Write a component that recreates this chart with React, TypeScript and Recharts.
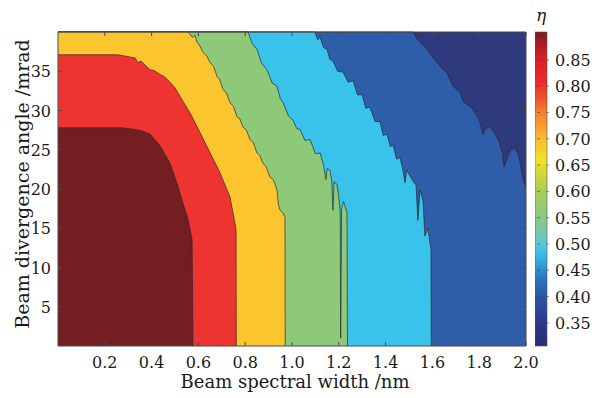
import React from "react";
import {
    ComposedChart,
    Area,
    XAxis,
    YAxis,
    ReferenceArea,
    Label,
    BarChart,
    Bar,
} from "recharts";

// axes
const X_TICKS = [0.2, 0.4, 0.6, 0.8, 1.0, 1.2, 1.4, 1.6, 1.8, 2.0];
const Y_TICKS = [5, 10, 15, 20, 25, 30, 35];
const ETA_TICKS = [0.35, 0.4, 0.45, 0.5, 0.55, 0.6, 0.65, 0.7, 0.75, 0.8, 0.85];
const ETA_RANGE = [0.306, 0.903];

// contour edges: [spectral width nm, divergence mrad], region lies below the edge
const navyEdge = [[0, 40], [2, 40]];
const blueEdge = [
    [0, 40], [1.517, 40], [1.534, 39.1], [1.56, 38.3], [1.577, 37.8], [1.6, 36.8], [1.62, 36.1],
    [1.645, 35.2], [1.662, 34.8], [1.688, 33.1], [1.718, 32.3], [1.731, 31.2], [1.74, 30.9],
    [1.752, 30.7], [1.765, 30.4], [1.78, 29.8], [1.8, 28.8], [1.812, 27.5], [1.816, 26.9],
    [1.825, 27.6], [1.846, 27.9], [1.865, 27.2], [1.885, 26.0], [1.9, 24.5], [1.906, 22.8],
    [1.915, 23.6], [1.935, 25.0], [1.953, 25.2], [1.968, 24.3], [1.98, 22.5], [1.987, 21.2],
    [2.0, 20.2],
];
const cyanEdge = [
    [0, 40], [1.098, 40], [1.11, 39.0], [1.12, 39.3], [1.135, 38.0], [1.15, 37.8], [1.162, 36.5],
    [1.175, 36.3], [1.195, 35.0], [1.218, 34.9], [1.24, 33.6], [1.261, 33.8], [1.28, 32.0],
    [1.3, 32.0], [1.315, 30.3], [1.333, 30.4], [1.355, 28.6], [1.376, 28.6], [1.39, 26.8],
    [1.406, 27.0], [1.42, 25.4], [1.432, 25.6], [1.447, 23.8], [1.462, 24.0], [1.474, 22.4],
    [1.483, 20.8], [1.49, 22.4], [1.517, 21.0], [1.53, 20.5], [1.538, 16.0], [1.547, 19.9],
    [1.56, 18.5], [1.568, 14.0], [1.581, 15.0], [1.594, 12.2], [1.595, 0],
];
const greenEdge = [
    [0, 40], [0.812, 40], [0.83, 38.5], [0.85, 37.8], [0.87, 36.0], [0.893, 35.2], [0.915, 33.5],
    [0.936, 33.1], [0.95, 31.5], [0.962, 31.0], [0.985, 29.3], [1.004, 28.8], [1.02, 27.7],
    [1.034, 27.6], [1.055, 26.2], [1.077, 26.3], [1.1, 24.5], [1.12, 24.6], [1.135, 23.0],
    [1.145, 21.2], [1.15, 22.6], [1.162, 22.4], [1.17, 21.0], [1.175, 17.3], [1.18, 20.9],
    [1.192, 20.6], [1.2, 19.0], [1.206, 17.0], [1.208, 1.0], [1.212, 17.5], [1.22, 18.4],
    [1.235, 17.0], [1.237, 0],
];
const yellowEdge = [
    [0, 40], [0.556, 40], [0.575, 39.3], [0.585, 39.6], [0.594, 38.7], [0.607, 38.2], [0.62, 37.4],
    [0.635, 37.0], [0.65, 36.1], [0.665, 35.6], [0.68, 34.3], [0.69, 34.0], [0.705, 32.7],
    [0.72, 32.2], [0.735, 31.0], [0.75, 30.5], [0.765, 29.2], [0.778, 28.9], [0.79, 27.9],
    [0.805, 27.5], [0.82, 26.3], [0.835, 25.9], [0.85, 24.6], [0.862, 24.3], [0.876, 23.3],
    [0.89, 22.8], [0.906, 21.5], [0.92, 21.2], [0.936, 19.9], [0.942, 18.0], [0.949, 17.3],
    [0.96, 17.0], [0.97, 16.4], [0.971, 0],
];
const redEdge = [
    [0, 37.1], [0.256, 37.1], [0.329, 36.7], [0.342, 36.1], [0.355, 36.3], [0.372, 35.8],
    [0.393, 35.2], [0.41, 35.1], [0.436, 34.6], [0.455, 34.3], [0.479, 33.6], [0.5, 32.9],
    [0.521, 31.8], [0.564, 29.7], [0.607, 27.2], [0.65, 24.6], [0.692, 22.1], [0.722, 19.9],
    [0.735, 19.0], [0.752, 16.3], [0.761, 14.8], [0.762, 0],
];
const darkRedEdge = [
    [0, 27.8], [0.274, 27.8], [0.35, 27.5], [0.393, 27.0], [0.436, 25.5], [0.479, 23.3],
    [0.513, 20.3], [0.534, 18.2], [0.556, 16.1], [0.573, 13.5], [0.577, 0],
];

const LEVELS = [
    { key: "navy", fill: "#2e397e", edge: navyEdge },
    { key: "blue", fill: "#2e5ea9", edge: blueEdge },
    { key: "cyan", fill: "#39c3ea", edge: cyanEdge },
    { key: "green", fill: "#8ec97a", edge: greenEdge },
    { key: "yellow", fill: "#fbc52f", edge: yellowEdge },
    { key: "red", fill: "#ee3431", edge: redEdge },
    { key: "darkRed", fill: "#731e22", edge: darkRedEdge },
];

// colour bar stops
const ETA_STOPS: [number, string][] = [
    [0.306, "#2b2d79"], [0.34, "#2c3482"], [0.37, "#2d4395"], [0.4, "#2c56a6"],
    [0.43, "#2a71bb"], [0.46, "#2f9ed9"], [0.48, "#36bce9"], [0.5, "#5ec5d6"],
    [0.53, "#7ec7a2"], [0.56, "#8fc97a"], [0.6, "#aacd58"], [0.63, "#ccd63b"],
    [0.66, "#efe12a"], [0.69, "#f7c52d"], [0.72, "#f7a22e"], [0.75, "#f3802f"],
    [0.78, "#ee4e2e"], [0.81, "#e82a2c"], [0.85, "#d92228"], [0.88, "#aa1d22"],
    [0.903, "#7d1b1f"],
];

const table = LEVELS.flatMap((l) => l.edge.map(([x, y]) => ({ x, [l.key]: y })));
const barData = [{ name: "eta", range: ETA_RANGE }];

const FONT = "DejaVu Serif";
const TOP = 32;
const BOTTOM = 346;
const LEFT = 58;
const RIGHT = 526;
const INK = "#1a1a1a";
const FRAME = "#4a4a4a";

function XTick({ x, payload }: any) {
    return (
        <g>
            <line x1={x} x2={x} y1={BOTTOM} y2={BOTTOM - 4} stroke={FRAME} />
            <line x1={x} x2={x} y1={TOP} y2={TOP + 4} stroke={FRAME} />
            <text x={x} y={BOTTOM + 22} textAnchor="middle" fontFamily={FONT} fontSize={16} fill={INK}>
                {payload.value.toFixed(1)}
            </text>
        </g>
    );
}

function YTick({ y, payload }: any) {
    return (
        <g>
            <line x1={LEFT} x2={LEFT + 4} y1={y} y2={y} stroke={FRAME} />
            <line x1={RIGHT} x2={RIGHT - 4} y1={y} y2={y} stroke={FRAME} />
            <text x={LEFT - 7} y={y + 6} textAnchor="end" fontFamily={FONT} fontSize={16} fill={INK}>
                {payload.value}
            </text>
        </g>
    );
}

function EtaTick({ x, y, payload }: any) {
    return (
        <g>
            <line x1={x - 12} x2={x - 9} y1={y} y2={y} stroke="#333" strokeOpacity={0.5} />
            <line x1={x - 3} x2={x} y1={y} y2={y} stroke="#333" strokeOpacity={0.5} />
            <text x={x + 6} y={y + 6} textAnchor="start" fontFamily={FONT} fontSize={16} fill={INK}>
                {payload.value.toFixed(2)}
            </text>
        </g>
    );
}

export default function App() {
    const lo = ETA_RANGE[0];
    const span = ETA_RANGE[1] - ETA_RANGE[0];
    return (
        <div style={{ position: "absolute", left: 0, top: 0, width: 603, height: 398, background: "#fff" }}>
            <div style={{ position: "absolute", left: 0, top: 0 }}>
                <ComposedChart
                    width={603}
                    height={398}
                    data={table}
                    margin={{ top: TOP, right: 603 - RIGHT, bottom: 0, left: 0 }}
                >
                    {LEVELS.map((l) => (
                        <Area
                            key={l.key}
                            dataKey={l.key}
                            type="linear"
                            fill={l.fill}
                            fillOpacity={1}
                            stroke={l.key === "navy" ? "none" : "#2a2a2a"}
                            strokeWidth={0.7}
                            connectNulls
                            dot={false}
                            activeDot={false}
                            isAnimationActive={false}
                        />
                    ))}
                    <XAxis
                        dataKey="x"
                        type="number"
                        domain={[0, 2]}
                        ticks={X_TICKS}
                        interval={0}
                        height={398 - BOTTOM}
                        tickSize={0}
                        tickLine={false}
                        axisLine={false}
                        tick={<XTick />}
                    >
                        <Label
                            content={({ viewBox }: any) => (
                                <text
                                    x={viewBox.x + viewBox.width / 2 + 3}
                                    y={viewBox.y + 42}
                                    textAnchor="middle"
                                    fontFamily={FONT}
                                    fontSize={18}
                                    fill={INK}
                                >
                                    Beam spectral width /nm
                                </text>
                            )}
                        />
                    </XAxis>
                    <YAxis
                        type="number"
                        domain={[0, 40]}
                        ticks={Y_TICKS}
                        interval={0}
                        width={LEFT}
                        tickSize={0}
                        tickLine={false}
                        axisLine={false}
                        tick={<YTick />}
                    >
                        <Label
                            content={({ viewBox }: any) => {
                                const cx = viewBox.x + 22;
                                const cy = viewBox.y + viewBox.height / 2 - 5;
                                return (
                                    <text
                                        x={cx}
                                        y={cy}
                                        transform={`rotate(-90 ${cx} ${cy})`}
                                        textAnchor="middle"
                                        dominantBaseline="central"
                                        fontFamily={FONT}
                                        fontSize={19}
                                        fill={INK}
                                    >
                                        Beam divergence angle /mrad
                                    </text>
                                );
                            }}
                        />
                    </YAxis>
                    <ReferenceArea x1={0} x2={2} y1={0} y2={40} fill="none" stroke={FRAME} strokeWidth={1} />
                </ComposedChart>
            </div>
            <div style={{ position: "absolute", left: 535, top: 0 }}>
                <BarChart
                    width={68}
                    height={398}
                    data={barData}
                    barCategoryGap={0}
                    margin={{ top: TOP, right: 0, bottom: 398 - BOTTOM, left: 0 }}
                >
                    <defs>
                        <linearGradient id="etaScale" x1="0" y1="1" x2="0" y2="0">
                            {ETA_STOPS.map(([v, c]) => (
                                <stop key={v} offset={(v - lo) / span} stopColor={c} />
                            ))}
                        </linearGradient>
                    </defs>
                    <XAxis dataKey="name" hide />
                    <YAxis
                        orientation="right"
                        type="number"
                        domain={ETA_RANGE}
                        ticks={ETA_TICKS}
                        interval={0}
                        width={56}
                        tickSize={0}
                        tickLine={false}
                        axisLine={false}
                        tick={<EtaTick />}
                    >
                        <Label
                            content={({ viewBox }: any) => (
                                <text
                                    x={viewBox.x - 6}
                                    y={viewBox.y - 11}
                                    textAnchor="middle"
                                    fontFamily={FONT}
                                    fontStyle="italic"
                                    fontSize={17}
                                    fill={INK}
                                >
                                    η
                                </text>
                            )}
                        />
                    </YAxis>
                    <Bar
                        dataKey="range"
                        fill="url(#etaScale)"
                        stroke="#555"
                        strokeWidth={0.6}
                        isAnimationActive={false}
                    />
                </BarChart>
            </div>
        </div>
    );
}
